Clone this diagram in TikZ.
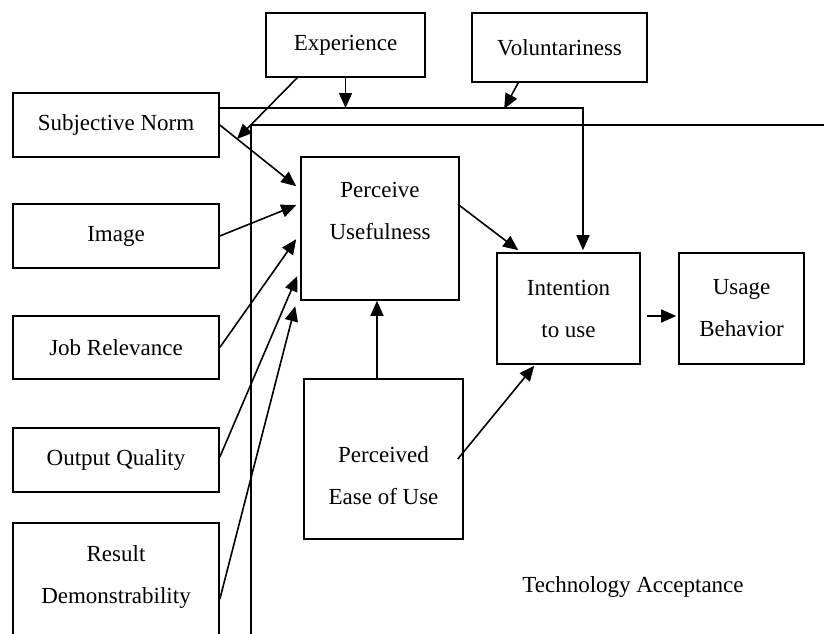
\documentclass[tikz,border=0pt]{standalone}
\usepackage{fontspec}
\setmainfont{Liberation Serif}
\usetikzlibrary{arrows.meta,calc}
\begin{document}
\begin{tikzpicture}[x=1pt,y=-1pt,
  box/.style={draw, line width=1.6pt, rectangle, inner sep=0pt, align=center, font=\fontsize{23}{42}\selectfont},
  txt/.style={align=center, font=\fontsize{23}{42}\selectfont, inner sep=0pt},
  arr/.style={line width=1.6pt, -{Triangle[length=15pt,width=13pt]}},
  ln/.style={line width=1.6pt}]
\useasboundingbox (0,0) rectangle (824,633);
\clip (0,0) rectangle (824,633);
\fill[white] (0,0) rectangle (824,633);

% frame of Technology Acceptance
\coordinate (fr) at (251,125);
\coordinate (frr) at (830,125);
\coordinate (frb) at (251,640);
\draw[ln] (frb) -- (fr) -- (frr);

% boxes
\node[box, minimum width=159, minimum height=64] (exp) at (345.5,45) {Experience};
\node[box, minimum width=175, minimum height=69] (vol) at (559.5,47.5) {Voluntariness};
\node[box, minimum width=206, minimum height=64] (sn) at (116,125) {Subjective Norm};
\node[box, minimum width=206, minimum height=64] (img) at (116,236) {Image};
\node[box, minimum width=206, minimum height=63] (jr) at (116,347.5) {Job Relevance};
\node[box, minimum width=206, minimum height=64] (oq) at (116,460) {Output Quality};
\node[box, minimum width=206, minimum height=177] (rd) at (116,611.5) {};
\node[txt] (rdt) at (116,577) {Result\\Demonstrability};

\node[box, minimum width=158, minimum height=143] (pu) at (380,228.5) {};
\node[txt] (put) at (380,211) {Perceive\\Usefulness};
\node[box, minimum width=159, minimum height=160] (peu) at (383.5,459) {};
\node[txt] (peut) at (383.5,476) {Perceived\\Ease of Use};
\node[box, minimum width=143, minimum height=111] (int) at (568.5,308.5) {Intention\\to use};
\node[box, minimum width=125, minimum height=111] (use) at (741.5,308.5) {Usage\\Behavior};
\node[txt] (ta) at (633,587) {Technology Acceptance};

% subjective norm to intention line
\coordinate (j1) at (583,108);
\draw[arr] (sn.east |- j1) -| ($(int.north -| j1)+(0,-2)$);
\draw[arr] (exp.south) -- (exp.south |- j1);
\coordinate (e1) at (237,139);
\draw[arr] ($(exp.south west)+(32,0)$) -- (e1);
\draw[arr] ($(vol.south west)+(47,0)$) -- ($(vol.south west)+(33,26)$);

% arrows into perceived usefulness
\draw[arr] (sn.east) -- ($(pu.north west)+(-4,30)$);
\draw[arr] (img.east) -- ($(pu.north west)+(-4,49)$);
\draw[arr] (jr.east) -- ($(pu.north west)+(-4,83)$);
\draw[arr] ($(oq.east)+(0,-3)$) -- ($(pu.north west)+(-3,120)$);
\draw[arr] ($(rd.north east)+(0,77)$) -- ($(pu.north west)+(-5,150)$);

% TAM core
\coordinate (vx) at (377,0);
\draw[arr] (peu.north -| vx) -- (pu.south -| vx);
\draw[arr] ($(pu.north east)+(-2,48)$) -- ($(int.north west)+(22,-2)$);
\draw[arr] ($(peu.east)+(-6,0)$) -- ($(int.south west)+(38,1)$);
\draw[arr] ($(int.east)+(6,7.5)$) -- ($(use.west)+(-2,7.5)$);
\end{tikzpicture}
\end{document}
